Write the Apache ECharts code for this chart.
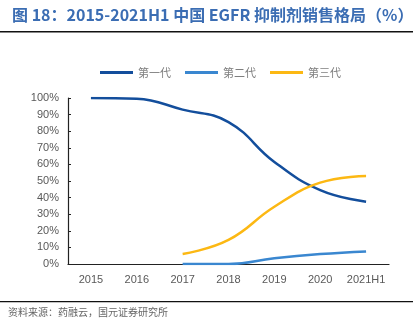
<!DOCTYPE html>
<html><head><meta charset="utf-8">
<script src="https://cdn.jsdelivr.net/npm/echarts@6/dist/echarts.min.js"></script>
<style>html,body{margin:0;padding:0;background:#fff}#c{width:420px;height:327px}</style>
</head><body><div id="c"></div>
<script>
var categories = ['2015','2016','2017','2018','2019','2020','2021H1'];
var gen1 = [100, 99.5, 93, 85.5, 61.5, 44.5, 37.5];
var gen2 = [null, null, 0, 0, 3.5, 6, 7.6];
var gen3 = [null, null, 6, 14.5, 34.5, 49, 53];
var seriesNames = ['第一代','第二代','第三代'];
var colors = ['#134e9c','#3a87d0','#fcb813'];

var chart = echarts.init(document.getElementById('c'), null, {renderer:'canvas'});
var font = '"Noto Sans CJK SC", sans-serif';
var mk = function(name, data, color){
  return {name:name, type:'line', data:data, smooth:0.45, symbol:'none', connectNulls:false,
    lineStyle:{width:2.5, color:color}, itemStyle:{color:color}};
};
chart.setOption({
  animation:false,
  color:colors,
  textStyle:{fontFamily:font},
  grid:{left:68, right:31, top:98, bottom:63},
  legend:{top:62, left:95, itemWidth:33, itemHeight:3, itemGap:14,
    icon:'rect', textStyle:{color:'#7f7f7f', fontSize:11, fontFamily:font},
    data:seriesNames},
  xAxis:{type:'category', data:categories, boundaryGap:true,
    axisLine:{lineStyle:{color:'#222', width:1.2}},
    axisTick:{inside:true, length:3, lineStyle:{color:'#222'}},
    axisLabel:{interval:0, color:'#595959', fontSize:11, margin:10, fontFamily:'Liberation Sans, Arial, sans-serif'}},
  yAxis:{type:'value', min:0, max:100, interval:10,
    axisLine:{show:true, lineStyle:{color:'#222', width:1.2}},
    axisTick:{show:true, inside:true, length:3, lineStyle:{color:'#222'}},
    splitLine:{show:false},
    axisLabel:{color:'#595959', fontSize:11, margin:9, formatter:'{value}%', fontFamily:'Liberation Sans, Arial, sans-serif'}},
  graphic:[
    {type:'text', left:12, top:7, style:{text:'图 18：2015-2021H1 中国 EGFR 抑制剂销售格局（%）', fill:'#3b6db3', font:'bold 16px "Noto Sans CJK SC", sans-serif'}},
    {type:'rect', shape:{x:0, y:31, width:413, height:1.5}, style:{fill:'#111'}},
    {type:'rect', shape:{x:0, y:301, width:413, height:1.3}, style:{fill:'#111'}},
    {type:'text', left:8, top:307, style:{text:'资料来源：药融云，国元证券研究所', fill:'#666', font:'10px "Noto Sans CJK SC", sans-serif'}}
  ],
  series:[mk(seriesNames[0], gen1, colors[0]), mk(seriesNames[1], gen2, colors[1]), mk(seriesNames[2], gen3, colors[2])]
});
</script></body></html>
